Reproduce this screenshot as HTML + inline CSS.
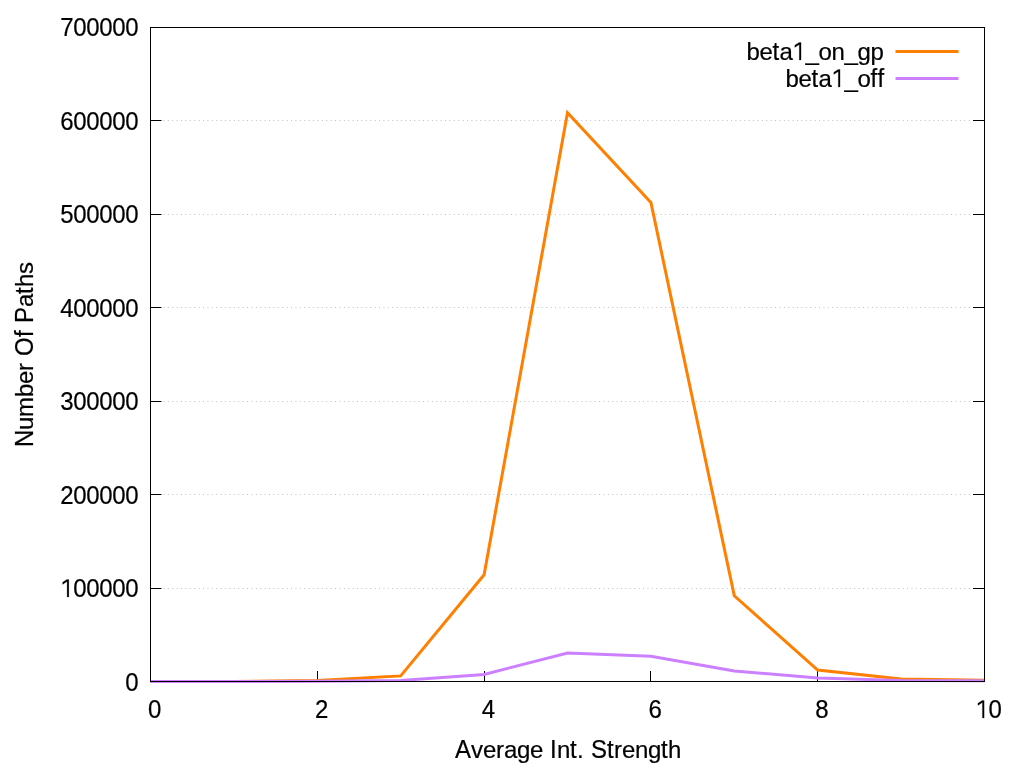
<!DOCTYPE html>
<html><head><meta charset="utf-8"><title>chart</title>
<style>html,body{margin:0;padding:0;background:#fff;width:1024px;height:768px;overflow:hidden;font-family:"Liberation Sans",sans-serif}svg{display:block;will-change:transform}</style>
</head><body>
<svg width="1024" height="768" viewBox="0 0 1024 768">
<rect width="1024" height="768" fill="#ffffff"/>
<g stroke="#c0c0c0" stroke-width="1" stroke-dasharray="1 3.4"><line x1="150.2" y1="588.5" x2="984" y2="588.5"/><line x1="150.2" y1="494.5" x2="984" y2="494.5"/><line x1="150.2" y1="401.5" x2="984" y2="401.5"/><line x1="150.2" y1="307.5" x2="984" y2="307.5"/><line x1="150.2" y1="214.5" x2="984" y2="214.5"/><line x1="150.2" y1="120.5" x2="984" y2="120.5"/></g>
<g stroke="#000" stroke-width="1"><line x1="150" y1="681.5" x2="161.5" y2="681.5"/><line x1="973" y1="681.5" x2="985" y2="681.5"/><line x1="150" y1="588.5" x2="161.5" y2="588.5"/><line x1="973" y1="588.5" x2="985" y2="588.5"/><line x1="150" y1="494.5" x2="161.5" y2="494.5"/><line x1="973" y1="494.5" x2="985" y2="494.5"/><line x1="150" y1="401.5" x2="161.5" y2="401.5"/><line x1="973" y1="401.5" x2="985" y2="401.5"/><line x1="150" y1="307.5" x2="161.5" y2="307.5"/><line x1="973" y1="307.5" x2="985" y2="307.5"/><line x1="150" y1="214.5" x2="161.5" y2="214.5"/><line x1="973" y1="214.5" x2="985" y2="214.5"/><line x1="150" y1="120.5" x2="161.5" y2="120.5"/><line x1="973" y1="120.5" x2="985" y2="120.5"/><line x1="150" y1="27.5" x2="161.5" y2="27.5"/><line x1="973" y1="27.5" x2="985" y2="27.5"/><line x1="150.5" y1="682" x2="150.5" y2="671.0"/><line x1="317.5" y1="682" x2="317.5" y2="671.0"/><line x1="484.5" y1="682" x2="484.5" y2="671.0"/><line x1="650.5" y1="682" x2="650.5" y2="671.0"/><line x1="817.5" y1="682" x2="817.5" y2="671.0"/><line x1="984.5" y1="682" x2="984.5" y2="671.0"/></g>
<polyline points="150.50,681.50 233.90,681.50 317.30,680.50 400.70,675.90 484.10,574.80 567.50,112.80 650.90,202.40 734.30,595.80 817.70,670.10 901.10,679.00 984.50,680.30" fill="none" stroke="#ff7f00" stroke-width="3" stroke-linejoin="miter" stroke-linecap="butt"/>
<polyline points="150.50,681.50 233.90,681.50 317.30,681.30 400.70,680.40 484.10,674.40 567.50,653.10 650.90,656.20 734.30,671.00 817.70,678.00 901.10,680.50 984.50,680.70" fill="none" stroke="#cc80ff" stroke-width="3" stroke-linejoin="miter" stroke-linecap="butt"/>
<line x1="895.5" y1="51.5" x2="958.5" y2="51.5" stroke="#ff7f00" stroke-width="3"/>
<line x1="895.5" y1="78.5" x2="958.5" y2="78.5" stroke="#cc80ff" stroke-width="3"/>
<rect x="150.5" y="27.5" width="834" height="654" fill="none" stroke="#000" stroke-width="1"/>
<g font-family="Liberation Sans, sans-serif" font-size="24" fill="#000" stroke="#000" stroke-width="0.20" stroke-linejoin="round"><text transform="translate(138.30,691.00) scale(1,1.0650)" x="-13.00" y="0" xml:space="preserve">0</text><path transform="translate(60.30,597.00) scale(0.011719,-0.012480)" d="M580,0 L580,1240 L197,1010 L197,1180 L560,1409 L730,1409 L730,0 Z" stroke-width="17.07"/><text transform="translate(138.30,597.00) scale(1,1.0650)" x="-78.00 -65.00 -52.00 -39.00 -26.00 -13.00" y="0" xml:space="preserve"> 00000</text><text transform="translate(138.30,504.00) scale(1,1.0650)" x="-78.00 -65.00 -52.00 -39.00 -26.00 -13.00" y="0" xml:space="preserve">200000</text><text transform="translate(138.30,410.00) scale(1,1.0650)" x="-78.00 -65.00 -52.00 -39.00 -26.00 -13.00" y="0" xml:space="preserve">300000</text><text transform="translate(138.30,317.00) scale(1,1.0650)" x="-78.00 -65.00 -52.00 -39.00 -26.00 -13.00" y="0" xml:space="preserve">400000</text><text transform="translate(138.30,223.00) scale(1,1.0650)" x="-78.00 -65.00 -52.00 -39.00 -26.00 -13.00" y="0" xml:space="preserve">500000</text><text transform="translate(138.30,130.00) scale(1,1.0650)" x="-78.00 -65.00 -52.00 -39.00 -26.00 -13.00" y="0" xml:space="preserve">600000</text><text transform="translate(138.30,36.00) scale(1,1.0650)" x="-78.00 -65.00 -52.00 -39.00 -26.00 -13.00" y="0" xml:space="preserve">700000</text><text transform="translate(154.60,718.00) scale(1,1.0650)" x="-6.50" y="0" xml:space="preserve">0</text><text transform="translate(321.40,718.00) scale(1,1.0650)" x="-6.50" y="0" xml:space="preserve">2</text><text transform="translate(488.20,718.00) scale(1,1.0650)" x="-6.50" y="0" xml:space="preserve">4</text><text transform="translate(655.00,718.00) scale(1,1.0650)" x="-6.50" y="0" xml:space="preserve">6</text><text transform="translate(821.80,718.00) scale(1,1.0650)" x="-6.50" y="0" xml:space="preserve">8</text><path transform="translate(975.60,718.00) scale(0.011719,-0.012480)" d="M580,0 L580,1240 L197,1010 L197,1180 L560,1409 L730,1409 L730,0 Z" stroke-width="17.07"/><text transform="translate(988.60,718.00) scale(1,1.0650)" x="-13.00 0.00" y="0" xml:space="preserve"> 0</text><path transform="translate(792.50,60.00) scale(0.011719,-0.012480)" d="M580,0 L580,1240 L197,1010 L197,1180 L560,1409 L730,1409 L730,0 Z" stroke-width="17.07"/><text transform="translate(883.50,60.00) scale(1,1.0345)" x="-137.00" y="0" xml:space="preserve">b</text><text transform="translate(883.50,60.00) scale(1,1.0000)" x="-124.00" y="0" xml:space="preserve">e</text><text transform="translate(883.50,60.00) scale(1,1.0900)" x="-111.00" y="0" xml:space="preserve">t</text><text transform="translate(883.50,60.00) scale(1,1.0000)" x="-104.00" y="0" xml:space="preserve">a</text><text transform="translate(883.50,60.00) scale(1,1.0000)" x="-78.00 -65.00 -52.00 -39.00 -26.00 -13.00" y="0" xml:space="preserve">_on_gp</text><path transform="translate(831.50,87.00) scale(0.011719,-0.012480)" d="M580,0 L580,1240 L197,1010 L197,1180 L560,1409 L730,1409 L730,0 Z" stroke-width="17.07"/><text transform="translate(884.50,87.00) scale(1,1.0345)" x="-99.00" y="0" xml:space="preserve">b</text><text transform="translate(884.50,87.00) scale(1,1.0000)" x="-86.00" y="0" xml:space="preserve">e</text><text transform="translate(884.50,87.00) scale(1,1.0900)" x="-73.00" y="0" xml:space="preserve">t</text><text transform="translate(884.50,87.00) scale(1,1.0000)" x="-66.00" y="0" xml:space="preserve">a</text><text transform="translate(884.50,87.00) scale(1,1.0000)" x="-40.00 -27.00" y="0" xml:space="preserve">_o</text><text transform="translate(884.50,87.00) scale(1,1.0500)" x="-14.00 -7.00" y="0" xml:space="preserve">ff</text><text transform="translate(567.90,758.00) scale(1,1.0650)" x="-113.00" y="0" xml:space="preserve">A</text><text transform="translate(567.90,758.00) scale(1,1.0000)" x="-97.00 -85.00 -72.00 -64.00 -51.00 -38.00 -25.00" y="0" xml:space="preserve">verage </text><text transform="translate(567.90,758.00) scale(1,1.0650)" x="-18.00" y="0" xml:space="preserve">I</text><text transform="translate(567.90,758.00) scale(1,1.0000)" x="-11.00" y="0" xml:space="preserve">n</text><text transform="translate(567.90,758.00) scale(1,1.0900)" x="2.00" y="0" xml:space="preserve">t</text><text transform="translate(567.90,758.00) scale(1,1.0000)" x="9.00 16.00" y="0" xml:space="preserve">. </text><text transform="translate(567.90,758.00) scale(1,1.0650)" x="23.00" y="0" xml:space="preserve">S</text><text transform="translate(567.90,758.00) scale(1,1.0900)" x="39.00" y="0" xml:space="preserve">t</text><text transform="translate(567.90,758.00) scale(1,1.0000)" x="46.00 54.00 67.00 80.00" y="0" xml:space="preserve">reng</text><text transform="translate(567.90,758.00) scale(1,1.0900)" x="93.00" y="0" xml:space="preserve">t</text><text transform="translate(567.90,758.00) scale(1,1.0345)" x="100.00" y="0" xml:space="preserve">h</text><text transform="translate(33.00,354.60) rotate(-90) scale(1,1.0650)" x="-92.50" y="0" xml:space="preserve">N</text><text transform="translate(33.00,354.60) rotate(-90) scale(1,1.0000)" x="-75.50 -62.50" y="0" xml:space="preserve">um</text><text transform="translate(33.00,354.60) rotate(-90) scale(1,1.0345)" x="-42.50" y="0" xml:space="preserve">b</text><text transform="translate(33.00,354.60) rotate(-90) scale(1,1.0000)" x="-29.50 -16.50 -8.50" y="0" xml:space="preserve">er </text><text transform="translate(33.00,354.60) rotate(-90) scale(1,1.0650)" x="-1.50" y="0" xml:space="preserve">O</text><text transform="translate(33.00,354.60) rotate(-90) scale(1,1.0500)" x="17.50" y="0" xml:space="preserve">f</text><text transform="translate(33.00,354.60) rotate(-90) scale(1,1.0650)" x="31.50" y="0" xml:space="preserve">P</text><text transform="translate(33.00,354.60) rotate(-90) scale(1,1.0000)" x="47.50" y="0" xml:space="preserve">a</text><text transform="translate(33.00,354.60) rotate(-90) scale(1,1.0900)" x="60.50" y="0" xml:space="preserve">t</text><text transform="translate(33.00,354.60) rotate(-90) scale(1,1.0345)" x="67.50" y="0" xml:space="preserve">h</text><text transform="translate(33.00,354.60) rotate(-90) scale(1,1.0000)" x="80.50" y="0" xml:space="preserve">s</text></g>
</svg>
</body></html>
